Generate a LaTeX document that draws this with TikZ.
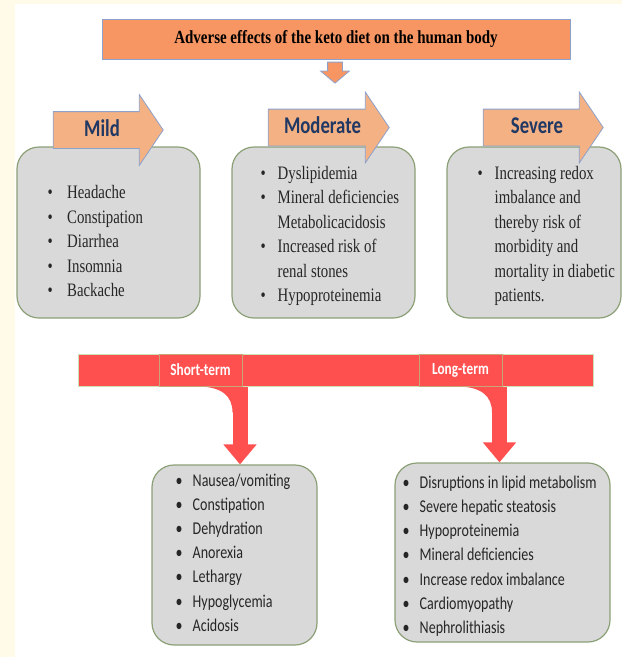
\documentclass[tikz,border=0pt]{standalone}
\usepackage{fontspec}
\setmainfont{Liberation Serif}
\newfontfamily\serifcond[FakeStretch=0.78]{Liberation Serif}
\newfontfamily\titlecond[FakeStretch=0.81]{Liberation Serif}
\newfontfamily\sanscond[FakeStretch=0.78]{Carlito}
\usetikzlibrary{shapes.arrows,arrows.meta,backgrounds,calc}

\definecolor{cream}{RGB}{255,251,232}
\definecolor{titleorange}{RGB}{247,150,98}
\definecolor{lvlorange}{RGB}{244,177,131}
\definecolor{arrowline}{RGB}{140,162,205}
\definecolor{lvltext}{RGB}{32,56,100}
\definecolor{boxgray}{RGB}{217,217,217}
\definecolor{boxline}{RGB}{140,160,120}
\definecolor{listtext}{RGB}{38,38,38}
\definecolor{barred}{RGB}{255,80,80}
\definecolor{cellline}{RGB}{200,165,120}
\definecolor{barline}{RGB}{205,225,180}

\newcommand{\itm}[2][17pt]{\makebox[#1][l]{\textbullet}#2}
\newcommand{\cont}[1]{\hspace*{17pt}#1}

\begin{document}
\begin{tikzpicture}[
    x=1pt, y=-1pt,
    effbox/.style={draw=boxline, line width=1.2pt, fill=boxgray, rounded corners=22pt},
    lvl/.style={single arrow, draw=arrowline, line width=0.8pt, fill=lvlorange,
        text height=24pt, text depth=12pt, single arrow head extend=17pt,
        single arrow tip angle=112, inner sep=0pt, text=lvltext,
        font=\sanscond\bfseries\fontsize{24}{24}\selectfont},
    toplist/.style={anchor=west, inner sep=0pt, align=left, text=listtext,
        font=\serifcond\fontsize{19}{24.5}\selectfont},
    botlist/.style={anchor=west, inner sep=0pt, align=left, text=listtext,
        font=\sanscond\fontsize{18}{24.2}\selectfont},
    cell/.style={draw=cellline, line width=0.8pt, fill=barred, minimum width=83pt,
        minimum height=32pt, inner sep=0pt, text=white,
        font=\sanscond\bfseries\fontsize{17}{17}\selectfont},
    drop/.style={line width=15pt, draw=barred, -{Triangle[width=32pt,length=20pt]}},
    fillet/.style={fill=barred}
]
    \useasboundingbox (0,0) rectangle (622,657);
    \begin{scope}[on background layer]
        \fill[white] (0,0) rectangle (622,657);
        \fill[cream] (0,0) rectangle (15,657);
        \fill[cream] (0,0) rectangle (622,4);
    \end{scope}

    % Title
    \node[draw=arrowline, line width=1pt, fill=titleorange, minimum width=468pt,
        minimum height=40pt, font=\titlecond\bfseries\fontsize{18.5}{18.5}\selectfont]
        (title) at (336,39) {Adverse effects of the keto diet on the human body};
    \node[single arrow, shape border rotate=270, draw=arrowline, line width=0.8pt,
        fill=titleorange, minimum height=21pt, text width=14pt, text height=0pt,
        text depth=0pt, inner sep=0pt, single arrow head extend=7pt,
        single arrow tip angle=100] (tarrow) at (335,69.5) {};

    % Boxes
    \node[effbox, minimum width=183pt, minimum height=171pt] (mildbox) at (108.5,232.5) {};
    \node[effbox, minimum width=183pt, minimum height=171pt] (modbox) at (323.5,232.5) {};
    \node[effbox, minimum width=174pt, minimum height=171pt] (sevbox) at (534,232.5) {};

    \node[lvl, minimum height=110pt] (mild) at (102,130) {Mild};
    \node[lvl, minimum height=121pt] (moderate) at (322.5,127.5) {Moderate};
    \node[lvl, minimum height=120pt] (severe) at (537,127.5) {Severe};

    \node[toplist] (mildlist) at (47.5,241) {\itm[19.5pt]{Headache}\\ \itm[19.5pt]{Constipation}\\
        \itm[19.5pt]{Diarrhea}\\ \itm[19.5pt]{Insomnia}\\ \itm[19.5pt]{Backache}};
    \node[toplist] (modlist) at (260.5,236) {\itm{Dyslipidemia}\\ \itm{Mineral deficiencies}\\
        \cont{Metabolicacidosis}\\ \itm{Increased risk of}\\ \cont{renal stones}\\
        \itm{Hypoproteinemia}};
    \node[toplist] (sevlist) at (477.5,236) {\itm{Increasing redox}\\ \cont{imbalance and}\\
        \cont{thereby risk of}\\ \cont{morbidity and}\\ \cont{mortality in diabetic}\\
        \cont{patients.}};

    % Time bar
    \node[draw=barline, line width=0.8pt, fill=barred, minimum width=515pt,
        minimum height=32pt, inner sep=0pt] (bar) at (335.5,370) {};
    \node[cell] (short) at (200.5,370) {Short-term};
    \node[cell] (long) at (460.5,370) {Long-term};

    \node[effbox, minimum width=165pt, minimum height=180pt] (stbox) at (234.5,555) {};
    \node[effbox, minimum width=215pt, minimum height=179pt] (ltbox) at (502.5,552.5) {};

    \node[botlist] (stlist) at (175.5,552.5) {\itm{Nausea/vomiting}\\ \itm{Constipation}\\
        \itm{Dehydration}\\ \itm{Anorexia}\\ \itm{Lethargy}\\ \itm{Hypoglycemia}\\
        \itm{Acidosis}};
    \node[botlist] (ltlist) at (402.5,556) {\itm{Disruptions in lipid metabolism}\\
        \itm{Severe hepatic steatosis}\\ \itm{Hypoproteinemia}\\ \itm{Mineral deficiencies}\\
        \itm{Increase redox imbalance}\\ \itm{Cardiomyopathy}\\ \itm{Nephrolithiasis}};

    % Drops from the bar
    \coordinate (stcorner) at ([xshift=-2pt]stbox.north |- bar.south);
    \coordinate (ltcorner) at ([xshift=-10.5pt]ltbox.north |- bar.south);
    \begin{scope}[on background layer]
        \draw[drop] ([xshift=5.5pt]stbox.north |- short.center) -- ([xshift=5.5pt]stbox.north);
        \draw[drop] ([xshift=-3pt]ltbox.north |- long.center) -- ([xshift=-3pt]ltbox.north);
        \fill[fillet] ($(stcorner)+(-36,0)$) .. controls +(26,0) and +(0,-16) .. ($(stcorner)+(0,26)$)
            -- ($(stcorner)+(8,26)$) -- ($(stcorner)+(8,0)$) -- cycle;
        \fill[fillet] ($(ltcorner)+(-36,0)$) .. controls +(26,0) and +(0,-16) .. ($(ltcorner)+(0,26)$)
            -- ($(ltcorner)+(8,26)$) -- ($(ltcorner)+(8,0)$) -- cycle;
    \end{scope}
\end{tikzpicture}
\end{document}
